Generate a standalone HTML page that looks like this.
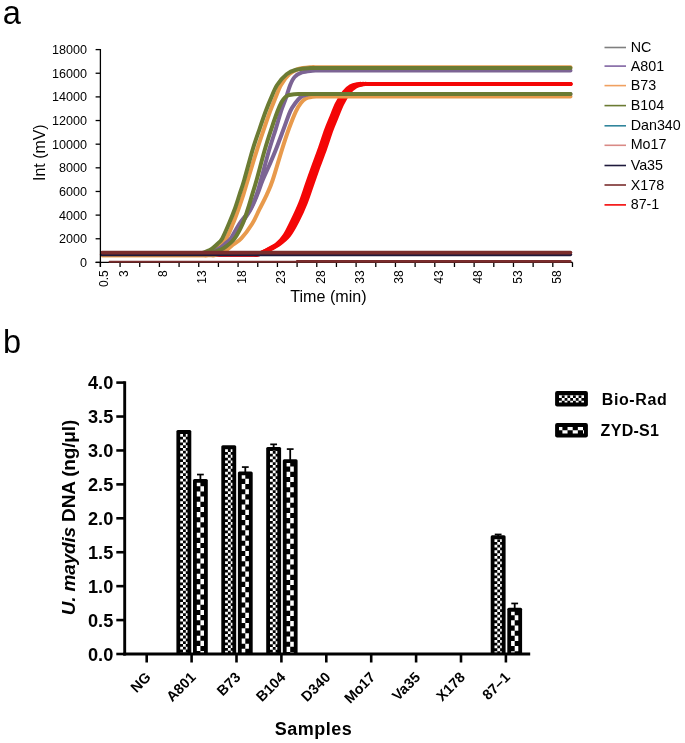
<!DOCTYPE html>
<html><head><meta charset="utf-8"><title>Figure</title>
<style>html,body{margin:0;padding:0;background:#fff;}body{width:685px;height:743px;overflow:hidden;font-family:"Liberation Sans",sans-serif;}svg text{font-family:"Liberation Sans",sans-serif;}</style>
</head><body>
<svg width="685" height="743" viewBox="0 0 685 743" style="display:block">
<defs>

</defs>
<rect width="685" height="743" fill="#fff"/>
<g font-family="Liberation Sans, sans-serif" fill="#000" opacity="0.999">
<text x="2.7" y="24.2" font-size="32.6">a</text>
<text x="3.0" y="352.7" font-size="32.5">b</text>
<path d="M102.00,254.50 L249.62,254.50 C250.29,254.50 252.29,254.55 253.62,254.50 C254.95,254.45 255.55,254.87 257.62,254.20 C259.69,253.53 262.84,252.12 266.02,250.50 C269.20,248.88 273.58,247.00 276.70,244.50 C279.81,242.00 282.13,239.43 284.73,235.50 C287.33,231.57 289.67,226.37 292.30,220.90 C294.93,215.43 298.07,208.77 300.50,202.70 C302.93,196.63 304.77,190.55 306.90,184.50 C309.03,178.45 311.12,172.45 313.30,166.40 C315.48,160.35 317.85,154.27 320.00,148.20 C322.15,142.13 324.38,134.97 326.20,130.00 C328.02,125.03 329.10,122.77 330.90,118.40 C332.70,114.03 334.82,108.15 337.00,103.80 C339.18,99.45 341.73,95.20 344.00,92.30 C346.27,89.40 348.30,87.75 350.60,86.40 C352.90,85.05 355.77,84.60 357.80,84.20 C359.83,83.80 361.13,84.03 362.80,84.00 C364.47,83.97 366.97,84.00 367.80,84.00 L570.50,84.00" fill="none" stroke="#f40606" stroke-width="4.20" stroke-linecap="round" stroke-linejoin="round"/>
<path d="M102.00,254.50 L250.40,254.50 C251.07,254.50 253.07,254.55 254.40,254.50 C255.73,254.45 256.33,254.87 258.40,254.20 C260.47,253.53 263.58,252.12 266.80,250.50 C270.02,248.88 274.37,247.00 277.70,244.50 C281.03,242.00 283.93,239.43 286.80,235.50 C289.67,231.57 292.18,226.37 294.90,220.90 C297.62,215.43 300.67,208.77 303.10,202.70 C305.53,196.63 307.37,190.55 309.50,184.50 C311.63,178.45 313.72,172.45 315.90,166.40 C318.08,160.35 320.45,154.27 322.60,148.20 C324.75,142.13 326.98,134.97 328.80,130.00 C330.62,125.03 331.70,122.77 333.50,118.40 C335.30,114.03 337.42,108.15 339.60,103.80 C341.78,99.45 344.33,95.20 346.60,92.30 C348.87,89.40 350.90,87.75 353.20,86.40 C355.50,85.05 358.37,84.60 360.40,84.20 C362.43,83.80 363.73,84.03 365.40,84.00 C367.07,83.97 369.57,84.00 370.40,84.00 L570.50,84.00" fill="none" stroke="#f40606" stroke-width="4.20" stroke-linecap="round" stroke-linejoin="round"/>
<path d="M102.00,254.50 L251.18,254.50 C251.85,254.50 253.85,254.55 255.18,254.50 C256.51,254.45 257.11,254.87 259.18,254.20 C261.25,253.53 264.33,252.12 267.58,250.50 C270.83,248.88 275.16,247.00 278.70,244.50 C282.25,242.00 285.74,239.43 288.87,235.50 C292.00,231.57 294.69,226.37 297.50,220.90 C300.31,215.43 303.27,208.77 305.70,202.70 C308.13,196.63 309.97,190.55 312.10,184.50 C314.23,178.45 316.32,172.45 318.50,166.40 C320.68,160.35 323.05,154.27 325.20,148.20 C327.35,142.13 329.58,134.97 331.40,130.00 C333.22,125.03 334.30,122.77 336.10,118.40 C337.90,114.03 340.02,108.15 342.20,103.80 C344.38,99.45 346.93,95.20 349.20,92.30 C351.47,89.40 353.50,87.75 355.80,86.40 C358.10,85.05 360.97,84.60 363.00,84.20 C365.03,83.80 366.33,84.03 368.00,84.00 C369.67,83.97 372.17,84.00 373.00,84.00 L570.50,84.00" fill="none" stroke="#f40606" stroke-width="4.20" stroke-linecap="round" stroke-linejoin="round"/>
<path d="M102.00,255.20 L199.40,255.20 C200.07,255.20 202.07,255.20 203.40,255.20 C204.73,255.20 205.57,255.98 207.40,255.20 C209.23,254.42 212.23,252.20 214.40,250.50 C216.57,248.80 218.40,247.02 220.40,245.00 C222.40,242.98 224.32,241.93 226.40,238.40 C228.48,234.87 230.90,228.67 232.90,223.80 C234.90,218.93 236.65,214.07 238.40,209.20 C240.15,204.33 241.83,199.47 243.40,194.60 C244.97,189.73 245.53,187.47 247.80,180.00 C250.07,172.53 254.30,158.33 257.00,149.80 C259.70,141.27 261.82,135.22 264.00,128.80 C266.18,122.38 268.20,116.42 270.10,111.30 C272.00,106.18 273.58,102.48 275.40,98.10 C277.22,93.72 278.67,89.02 281.00,85.00 C283.33,80.98 286.50,76.67 289.40,74.00 C292.30,71.33 294.73,70.13 298.40,69.00 C302.07,67.87 308.40,67.48 311.40,67.20 C314.40,66.92 314.73,67.28 316.40,67.30 C318.07,67.32 320.57,67.30 321.40,67.30 L570.50,67.30" fill="none" stroke="#e89a4c" stroke-width="4.00" stroke-linecap="round" stroke-linejoin="round"/>
<path d="M102.00,255.20 L206.40,255.20 C207.07,255.20 209.07,255.20 210.40,255.20 C211.73,255.20 212.07,255.82 214.40,255.20 C216.73,254.58 221.50,253.08 224.40,251.50 C227.30,249.92 228.98,247.88 231.80,245.70 C234.62,243.52 237.90,242.05 241.30,238.40 C244.70,234.75 249.17,228.67 252.20,223.80 C255.23,218.93 257.07,214.07 259.50,209.20 C261.93,204.33 264.60,199.47 266.80,194.60 C269.00,189.73 270.18,187.47 272.70,180.00 C275.22,172.53 279.20,158.33 281.90,149.80 C284.60,141.27 286.57,135.22 288.90,128.80 C291.23,122.38 293.90,115.60 295.90,111.30 C297.90,107.00 299.23,105.15 300.90,103.00 C302.57,100.85 303.98,99.43 305.90,98.40 C307.82,97.37 310.48,97.12 312.40,96.80 C314.32,96.48 315.73,96.55 317.40,96.50 C319.07,96.45 321.57,96.50 322.40,96.50 L570.50,96.50" fill="none" stroke="#e89a4c" stroke-width="4.00" stroke-linecap="round" stroke-linejoin="round"/>
<path d="M102.00,253.00 L202.40,253.00 C203.07,253.00 205.07,253.07 206.40,253.00 C207.73,252.93 208.40,253.27 210.40,252.60 C212.40,251.93 215.90,250.52 218.40,249.00 C220.90,247.48 223.32,245.27 225.40,243.50 C227.48,241.73 228.57,241.68 230.90,238.40 C233.23,235.12 236.18,228.67 239.40,223.80 C242.62,218.93 247.33,214.07 250.20,209.20 C253.07,204.33 254.82,199.47 256.60,194.60 C258.38,189.73 258.80,187.47 260.90,180.00 C263.00,172.53 266.72,158.33 269.20,149.80 C271.68,141.27 273.83,135.22 275.80,128.80 C277.77,122.38 279.32,116.42 281.00,111.30 C282.68,106.18 284.37,102.48 285.90,98.10 C287.43,93.72 288.75,88.52 290.20,85.00 C291.65,81.48 292.65,79.10 294.60,77.00 C296.55,74.90 298.97,73.45 301.90,72.40 C304.83,71.35 309.65,71.02 312.20,70.70 C314.75,70.38 315.53,70.53 317.20,70.50 C318.87,70.47 321.37,70.50 322.20,70.50 L570.50,70.50" fill="none" stroke="#7c6494" stroke-width="4.00" stroke-linecap="round" stroke-linejoin="round"/>
<path d="M102.00,253.00 L203.40,253.00 C204.07,253.00 206.07,253.07 207.40,253.00 C208.73,252.93 209.23,253.27 211.40,252.60 C213.57,251.93 217.73,250.52 220.40,249.00 C223.07,247.48 225.32,245.27 227.40,243.50 C229.48,241.73 230.57,241.68 232.90,238.40 C235.23,235.12 238.43,228.67 241.40,223.80 C244.37,218.93 248.05,214.07 250.70,209.20 C253.35,204.33 255.30,199.47 257.30,194.60 C259.30,189.73 260.68,184.93 262.70,180.00 C264.72,175.07 267.22,170.03 269.40,165.00 C271.58,159.97 273.42,155.83 275.80,149.80 C278.18,143.77 281.30,135.22 283.70,128.80 C286.10,122.38 288.25,115.60 290.20,111.30 C292.15,107.00 293.70,105.32 295.40,103.00 C297.10,100.68 298.57,98.77 300.40,97.40 C302.23,96.03 304.57,95.37 306.40,94.80 C308.23,94.23 309.73,94.13 311.40,94.00 C313.07,93.87 315.57,94.00 316.40,94.00 L570.50,94.00" fill="none" stroke="#7c6494" stroke-width="4.00" stroke-linecap="round" stroke-linejoin="round"/>
<path d="M102.00,253.00 L195.40,253.00 C196.07,253.00 198.07,253.07 199.40,253.00 C200.73,252.93 201.90,253.00 203.40,252.60 C204.90,252.20 206.95,251.27 208.40,250.60 C209.85,249.93 210.60,249.70 212.10,248.60 C213.60,247.50 215.70,245.70 217.40,244.00 C219.10,242.30 220.38,241.77 222.30,238.40 C224.22,235.03 226.83,228.67 228.90,223.80 C230.97,218.93 232.93,214.07 234.70,209.20 C236.47,204.33 237.92,199.47 239.50,194.60 C241.08,189.73 242.02,187.47 244.20,180.00 C246.38,172.53 250.03,158.33 252.60,149.80 C255.17,141.27 257.42,135.22 259.60,128.80 C261.78,122.38 263.80,116.42 265.70,111.30 C267.60,106.18 269.10,102.48 271.00,98.10 C272.90,93.72 274.50,88.98 277.10,85.00 C279.70,81.02 283.43,76.73 286.60,74.20 C289.77,71.67 292.08,70.82 296.10,69.80 C300.12,68.78 307.43,68.40 310.70,68.10 C313.97,67.80 314.03,68.02 315.70,68.00 C317.37,67.98 319.87,68.00 320.70,68.00 L570.50,68.00" fill="none" stroke="#6b7b33" stroke-width="4.00" stroke-linecap="round" stroke-linejoin="round"/>
<path d="M102.00,253.00 L204.40,253.00 C205.07,253.00 207.07,253.07 208.40,253.00 C209.73,252.93 210.57,253.07 212.40,252.60 C214.23,252.13 217.27,251.10 219.40,250.20 C221.53,249.30 222.65,249.17 225.20,247.20 C227.75,245.23 231.78,242.30 234.70,238.40 C237.62,234.50 240.52,228.67 242.70,223.80 C244.88,218.93 246.22,214.07 247.80,209.20 C249.38,204.33 250.73,199.47 252.20,194.60 C253.67,189.73 254.50,187.47 256.60,180.00 C258.70,172.53 262.33,158.33 264.80,149.80 C267.27,141.27 269.28,135.22 271.40,128.80 C273.52,122.38 275.80,115.77 277.50,111.30 C279.20,106.83 280.38,104.28 281.60,102.00 C282.82,99.72 283.60,98.73 284.80,97.60 C286.00,96.47 287.20,95.77 288.80,95.20 C290.40,94.63 292.63,94.40 294.40,94.20 C296.17,94.00 297.73,94.03 299.40,94.00 C301.07,93.97 303.57,94.00 304.40,94.00 L570.50,94.00" fill="none" stroke="#6b7b33" stroke-width="4.00" stroke-linecap="round" stroke-linejoin="round"/>
<line x1="102.0" y1="254.5" x2="570.5" y2="254.5" stroke="#1e1a3c" stroke-width="3.4" stroke-linecap="round"/>
<line x1="102.0" y1="252.6" x2="570.5" y2="252.6" stroke="#7a2d2d" stroke-width="3.6" stroke-linecap="round"/>
<line x1="100.4" y1="49.0" x2="100.4" y2="267.0" stroke="#000" stroke-width="1.3"/>
<line x1="95.6" y1="262.4" x2="572.6" y2="262.4" stroke="#000" stroke-width="1.3"/>
<line x1="95.6" y1="49.60" x2="100.4" y2="49.60" stroke="#000" stroke-width="1.3"/>
<text x="87.1" y="54.10" font-size="12.6" text-anchor="end">18000</text>
<line x1="95.6" y1="73.24" x2="100.4" y2="73.24" stroke="#000" stroke-width="1.3"/>
<text x="87.1" y="77.74" font-size="12.6" text-anchor="end">16000</text>
<line x1="95.6" y1="96.89" x2="100.4" y2="96.89" stroke="#000" stroke-width="1.3"/>
<text x="87.1" y="101.39" font-size="12.6" text-anchor="end">14000</text>
<line x1="95.6" y1="120.53" x2="100.4" y2="120.53" stroke="#000" stroke-width="1.3"/>
<text x="87.1" y="125.03" font-size="12.6" text-anchor="end">12000</text>
<line x1="95.6" y1="144.18" x2="100.4" y2="144.18" stroke="#000" stroke-width="1.3"/>
<text x="87.1" y="148.68" font-size="12.6" text-anchor="end">10000</text>
<line x1="95.6" y1="167.82" x2="100.4" y2="167.82" stroke="#000" stroke-width="1.3"/>
<text x="87.1" y="172.32" font-size="12.6" text-anchor="end">8000</text>
<line x1="95.6" y1="191.47" x2="100.4" y2="191.47" stroke="#000" stroke-width="1.3"/>
<text x="87.1" y="195.97" font-size="12.6" text-anchor="end">6000</text>
<line x1="95.6" y1="215.11" x2="100.4" y2="215.11" stroke="#000" stroke-width="1.3"/>
<text x="87.1" y="219.61" font-size="12.6" text-anchor="end">4000</text>
<line x1="95.6" y1="238.76" x2="100.4" y2="238.76" stroke="#000" stroke-width="1.3"/>
<text x="87.1" y="243.26" font-size="12.6" text-anchor="end">2000</text>
<line x1="95.6" y1="262.40" x2="100.4" y2="262.40" stroke="#000" stroke-width="1.3"/>
<text x="87.1" y="266.90" font-size="12.6" text-anchor="end">0</text>
<line x1="100.40" y1="262.4" x2="100.40" y2="267.0" stroke="#000" stroke-width="1.3"/>
<line x1="120.07" y1="262.4" x2="120.07" y2="267.0" stroke="#000" stroke-width="1.3"/>
<line x1="139.74" y1="262.4" x2="139.74" y2="267.0" stroke="#000" stroke-width="1.3"/>
<line x1="159.41" y1="262.4" x2="159.41" y2="267.0" stroke="#000" stroke-width="1.3"/>
<line x1="179.08" y1="262.4" x2="179.08" y2="267.0" stroke="#000" stroke-width="1.3"/>
<line x1="198.75" y1="262.4" x2="198.75" y2="267.0" stroke="#000" stroke-width="1.3"/>
<line x1="218.42" y1="262.4" x2="218.42" y2="267.0" stroke="#000" stroke-width="1.3"/>
<line x1="238.09" y1="262.4" x2="238.09" y2="267.0" stroke="#000" stroke-width="1.3"/>
<line x1="257.76" y1="262.4" x2="257.76" y2="267.0" stroke="#000" stroke-width="1.3"/>
<line x1="277.43" y1="262.4" x2="277.43" y2="267.0" stroke="#000" stroke-width="1.3"/>
<line x1="297.10" y1="262.4" x2="297.10" y2="267.0" stroke="#000" stroke-width="1.3"/>
<line x1="316.77" y1="262.4" x2="316.77" y2="267.0" stroke="#000" stroke-width="1.3"/>
<line x1="336.44" y1="262.4" x2="336.44" y2="267.0" stroke="#000" stroke-width="1.3"/>
<line x1="356.11" y1="262.4" x2="356.11" y2="267.0" stroke="#000" stroke-width="1.3"/>
<line x1="375.78" y1="262.4" x2="375.78" y2="267.0" stroke="#000" stroke-width="1.3"/>
<line x1="395.45" y1="262.4" x2="395.45" y2="267.0" stroke="#000" stroke-width="1.3"/>
<line x1="415.12" y1="262.4" x2="415.12" y2="267.0" stroke="#000" stroke-width="1.3"/>
<line x1="434.79" y1="262.4" x2="434.79" y2="267.0" stroke="#000" stroke-width="1.3"/>
<line x1="454.46" y1="262.4" x2="454.46" y2="267.0" stroke="#000" stroke-width="1.3"/>
<line x1="474.13" y1="262.4" x2="474.13" y2="267.0" stroke="#000" stroke-width="1.3"/>
<line x1="493.80" y1="262.4" x2="493.80" y2="267.0" stroke="#000" stroke-width="1.3"/>
<line x1="513.47" y1="262.4" x2="513.47" y2="267.0" stroke="#000" stroke-width="1.3"/>
<line x1="533.14" y1="262.4" x2="533.14" y2="267.0" stroke="#000" stroke-width="1.3"/>
<line x1="552.81" y1="262.4" x2="552.81" y2="267.0" stroke="#000" stroke-width="1.3"/>
<line x1="572.48" y1="262.4" x2="572.48" y2="267.0" stroke="#000" stroke-width="1.3"/>
<line x1="109.5" y1="261.7" x2="570.5" y2="261.7" stroke="#7a2d2d" stroke-width="1.9" stroke-linecap="round"/>
<line x1="297" y1="261.2" x2="570.5" y2="261.2" stroke="#7a2d2d" stroke-width="2.2" stroke-linecap="round"/>
<text transform="translate(108.10,270.3) rotate(-90)" font-size="12" text-anchor="end">0.5</text>
<text transform="translate(127.60,270.3) rotate(-90)" font-size="12" text-anchor="end">3</text>
<text transform="translate(167.00,270.3) rotate(-90)" font-size="12" text-anchor="end">8</text>
<text transform="translate(206.40,270.3) rotate(-90)" font-size="12" text-anchor="end">13</text>
<text transform="translate(245.80,270.3) rotate(-90)" font-size="12" text-anchor="end">18</text>
<text transform="translate(285.20,270.3) rotate(-90)" font-size="12" text-anchor="end">23</text>
<text transform="translate(324.60,270.3) rotate(-90)" font-size="12" text-anchor="end">28</text>
<text transform="translate(364.00,270.3) rotate(-90)" font-size="12" text-anchor="end">33</text>
<text transform="translate(403.40,270.3) rotate(-90)" font-size="12" text-anchor="end">38</text>
<text transform="translate(442.80,270.3) rotate(-90)" font-size="12" text-anchor="end">43</text>
<text transform="translate(482.20,270.3) rotate(-90)" font-size="12" text-anchor="end">48</text>
<text transform="translate(521.60,270.3) rotate(-90)" font-size="12" text-anchor="end">53</text>
<text transform="translate(561.00,270.3) rotate(-90)" font-size="12" text-anchor="end">58</text>
<text x="328.4" y="301.8" font-size="16.1" text-anchor="middle">Time (min)</text>
<text transform="translate(44.5,152.7) rotate(-90)" font-size="15.9" text-anchor="middle">Int (mV)</text>
<line x1="604.5" y1="47.50" x2="626" y2="47.50" stroke="#7f7f7f" stroke-width="1.6"/>
<text x="630.7" y="51.90" font-size="14.3">NC</text>
<line x1="604.5" y1="66.10" x2="626" y2="66.10" stroke="#8064a2" stroke-width="1.6"/>
<text x="630.7" y="70.50" font-size="14.3">A801</text>
<line x1="604.5" y1="85.60" x2="626" y2="85.60" stroke="#f0a060" stroke-width="1.6"/>
<text x="630.7" y="90.00" font-size="14.3">B73</text>
<line x1="604.5" y1="105.60" x2="626" y2="105.60" stroke="#6b7b33" stroke-width="1.6"/>
<text x="630.7" y="110.10" font-size="14.3">B104</text>
<line x1="604.5" y1="125.80" x2="626" y2="125.80" stroke="#31859c" stroke-width="1.6"/>
<text x="630.7" y="129.60" font-size="14.3">Dan340</text>
<line x1="604.5" y1="145.30" x2="626" y2="145.30" stroke="#d98a86" stroke-width="1.6"/>
<text x="630.7" y="149.40" font-size="14.3">Mo17</text>
<line x1="604.5" y1="165.50" x2="626" y2="165.50" stroke="#1e1a3c" stroke-width="1.6"/>
<text x="630.7" y="169.60" font-size="14.3">Va35</text>
<line x1="604.5" y1="185.00" x2="626" y2="185.00" stroke="#7a2d2d" stroke-width="1.6"/>
<text x="630.7" y="189.80" font-size="14.3">X178</text>
<line x1="604.5" y1="204.90" x2="626" y2="204.90" stroke="#f40606" stroke-width="1.6"/>
<text x="630.7" y="209.30" font-size="14.3">87-1</text>
<path d="M176.40,654.00 L176.40,431.60 Q176.40,430.10 177.90,430.10 L189.80,430.10 Q191.30,430.10 191.30,431.60 L191.30,654.00 Z" fill="#000"/><path d="M180.20,434.00H183.00V436.80H180.20ZM180.20,439.60H183.00V442.39H180.20ZM180.20,445.19H183.00V448.00H180.20ZM180.20,450.80H183.00V453.60H180.20ZM180.20,456.39H183.00V459.19H180.20ZM180.20,462.00H183.00V464.80H180.20ZM180.20,467.60H183.00V470.39H180.20ZM180.20,473.19H183.00V476.00H180.20ZM180.20,478.80H183.00V481.60H180.20ZM180.20,484.39H183.00V487.19H180.20ZM180.20,490.00H183.00V492.80H180.20ZM180.20,495.60H183.00V498.39H180.20ZM180.20,501.19H183.00V504.00H180.20ZM180.20,506.80H183.00V509.60H180.20ZM180.20,512.39H183.00V515.19H180.20ZM180.20,518.00H183.00V520.79H180.20ZM180.20,523.60H183.00V526.39H180.20ZM180.20,529.19H183.00V532.00H180.20ZM180.20,534.79H183.00V537.60H180.20ZM180.20,540.39H183.00V543.19H180.20ZM180.20,546.00H183.00V548.79H180.20ZM180.20,551.60H183.00V554.39H180.20ZM180.20,557.19H183.00V560.00H180.20ZM180.20,562.79H183.00V565.60H180.20ZM180.20,568.39H183.00V571.19H180.20ZM180.20,574.00H183.00V576.79H180.20ZM180.20,579.60H183.00V582.39H180.20ZM180.20,585.19H183.00V588.00H180.20ZM180.20,590.79H183.00V593.60H180.20ZM180.20,596.39H183.00V599.19H180.20ZM180.20,602.00H183.00V604.79H180.20ZM180.20,607.60H183.00V610.39H180.20ZM180.20,613.19H183.00V616.00H180.20ZM180.20,618.79H183.00V621.60H180.20ZM180.20,624.39H183.00V627.19H180.20ZM180.20,630.00H183.00V632.79H180.20ZM180.20,635.60H183.00V638.39H180.20ZM180.20,641.19H183.00V644.00H180.20ZM180.20,646.79H183.00V649.60H180.20ZM180.20,652.39H183.00V652.70H180.20ZM183.00,433.90H185.80V434.00H183.00ZM183.00,436.80H185.80V439.60H183.00ZM183.00,442.39H185.80V445.19H183.00ZM183.00,448.00H185.80V450.80H183.00ZM183.00,453.60H185.80V456.39H183.00ZM183.00,459.19H185.80V462.00H183.00ZM183.00,464.80H185.80V467.60H183.00ZM183.00,470.39H185.80V473.19H183.00ZM183.00,476.00H185.80V478.80H183.00ZM183.00,481.60H185.80V484.39H183.00ZM183.00,487.19H185.80V490.00H183.00ZM183.00,492.80H185.80V495.60H183.00ZM183.00,498.39H185.80V501.19H183.00ZM183.00,504.00H185.80V506.80H183.00ZM183.00,509.60H185.80V512.39H183.00ZM183.00,515.19H185.80V518.00H183.00ZM183.00,520.79H185.80V523.60H183.00ZM183.00,526.39H185.80V529.19H183.00ZM183.00,532.00H185.80V534.79H183.00ZM183.00,537.60H185.80V540.39H183.00ZM183.00,543.19H185.80V546.00H183.00ZM183.00,548.79H185.80V551.60H183.00ZM183.00,554.39H185.80V557.19H183.00ZM183.00,560.00H185.80V562.79H183.00ZM183.00,565.60H185.80V568.39H183.00ZM183.00,571.19H185.80V574.00H183.00ZM183.00,576.79H185.80V579.60H183.00ZM183.00,582.39H185.80V585.19H183.00ZM183.00,588.00H185.80V590.79H183.00ZM183.00,593.60H185.80V596.39H183.00ZM183.00,599.19H185.80V602.00H183.00ZM183.00,604.79H185.80V607.60H183.00ZM183.00,610.39H185.80V613.19H183.00ZM183.00,616.00H185.80V618.79H183.00ZM183.00,621.60H185.80V624.39H183.00ZM183.00,627.19H185.80V630.00H183.00ZM183.00,632.79H185.80V635.60H183.00ZM183.00,638.39H185.80V641.19H183.00ZM183.00,644.00H185.80V646.79H183.00ZM183.00,649.60H185.80V652.39H183.00ZM185.80,434.00H187.50V436.80H185.80ZM185.80,439.60H187.50V442.39H185.80ZM185.80,445.19H187.50V448.00H185.80ZM185.80,450.80H187.50V453.60H185.80ZM185.80,456.39H187.50V459.19H185.80ZM185.80,462.00H187.50V464.80H185.80ZM185.80,467.60H187.50V470.39H185.80ZM185.80,473.19H187.50V476.00H185.80ZM185.80,478.80H187.50V481.60H185.80ZM185.80,484.39H187.50V487.19H185.80ZM185.80,490.00H187.50V492.80H185.80ZM185.80,495.60H187.50V498.39H185.80ZM185.80,501.19H187.50V504.00H185.80ZM185.80,506.80H187.50V509.60H185.80ZM185.80,512.39H187.50V515.19H185.80ZM185.80,518.00H187.50V520.79H185.80ZM185.80,523.60H187.50V526.39H185.80ZM185.80,529.19H187.50V532.00H185.80ZM185.80,534.79H187.50V537.60H185.80ZM185.80,540.39H187.50V543.19H185.80ZM185.80,546.00H187.50V548.79H185.80ZM185.80,551.60H187.50V554.39H185.80ZM185.80,557.19H187.50V560.00H185.80ZM185.80,562.79H187.50V565.60H185.80ZM185.80,568.39H187.50V571.19H185.80ZM185.80,574.00H187.50V576.79H185.80ZM185.80,579.60H187.50V582.39H185.80ZM185.80,585.19H187.50V588.00H185.80ZM185.80,590.79H187.50V593.60H185.80ZM185.80,596.39H187.50V599.19H185.80ZM185.80,602.00H187.50V604.79H185.80ZM185.80,607.60H187.50V610.39H185.80ZM185.80,613.19H187.50V616.00H185.80ZM185.80,618.79H187.50V621.60H185.80ZM185.80,624.39H187.50V627.19H185.80ZM185.80,630.00H187.50V632.79H185.80ZM185.80,635.60H187.50V638.39H185.80ZM185.80,641.19H187.50V644.00H185.80ZM185.80,646.79H187.50V649.60H185.80ZM185.80,652.39H187.50V652.70H185.80Z" fill="#fff"/>
<line x1="200.40" y1="474.54" x2="200.40" y2="479.95" stroke="#000" stroke-width="1.8"/><line x1="197.00" y1="474.54" x2="203.80" y2="474.54" stroke="#000" stroke-width="1.7"/><path d="M193.00,654.00 L193.00,480.45 Q193.00,478.95 194.50,478.95 L206.30,478.95 Q207.80,478.95 207.80,480.45 L207.80,654.00 Z" fill="#000"/><path d="M196.80,482.75H200.40V486.30H196.80ZM196.80,491.45H200.40V496.60H196.80ZM196.80,501.75H200.40V506.90H196.80ZM196.80,512.05H200.40V517.20H196.80ZM196.80,522.35H200.40V527.50H196.80ZM196.80,532.65H200.40V537.80H196.80ZM196.80,542.95H200.40V548.10H196.80ZM196.80,553.25H200.40V558.40H196.80ZM196.80,563.55H200.40V568.70H196.80ZM196.80,573.85H200.40V579.00H196.80ZM196.80,584.15H200.40V589.30H196.80ZM196.80,594.45H200.40V599.60H196.80ZM196.80,604.75H200.40V609.90H196.80ZM196.80,615.05H200.40V620.20H196.80ZM196.80,625.35H200.40V630.50H196.80ZM196.80,635.65H200.40V640.80H196.80ZM196.80,645.95H200.40V651.10H196.80ZM200.40,486.30H204.00V491.45H200.40ZM200.40,496.60H204.00V501.75H200.40ZM200.40,506.90H204.00V512.05H200.40ZM200.40,517.20H204.00V522.35H200.40ZM200.40,527.50H204.00V532.65H200.40ZM200.40,537.80H204.00V542.95H200.40ZM200.40,548.10H204.00V553.25H200.40ZM200.40,558.40H204.00V563.55H200.40ZM200.40,568.70H204.00V573.85H200.40ZM200.40,579.00H204.00V584.15H200.40ZM200.40,589.30H204.00V594.45H200.40ZM200.40,599.60H204.00V604.75H200.40ZM200.40,609.90H204.00V615.05H200.40ZM200.40,620.20H204.00V625.35H200.40ZM200.40,630.50H204.00V635.65H200.40ZM200.40,640.80H204.00V645.95H200.40ZM200.40,651.10H204.00V652.70H200.40Z" fill="#fff"/>
<path d="M221.30,654.00 L221.30,446.86 Q221.30,445.36 222.80,445.36 L234.70,445.36 Q236.20,445.36 236.20,446.86 L236.20,654.00 Z" fill="#000"/><path d="M225.10,449.26H227.90V452.06H225.10ZM225.10,454.86H227.90V457.66H225.10ZM225.10,460.46H227.90V463.26H225.10ZM225.10,466.06H227.90V468.86H225.10ZM225.10,471.66H227.90V474.46H225.10ZM225.10,477.26H227.90V480.06H225.10ZM225.10,482.86H227.90V485.66H225.10ZM225.10,488.46H227.90V491.26H225.10ZM225.10,494.06H227.90V496.86H225.10ZM225.10,499.66H227.90V502.46H225.10ZM225.10,505.26H227.90V508.06H225.10ZM225.10,510.86H227.90V513.66H225.10ZM225.10,516.46H227.90V519.26H225.10ZM225.10,522.06H227.90V524.86H225.10ZM225.10,527.66H227.90V530.46H225.10ZM225.10,533.26H227.90V536.06H225.10ZM225.10,538.86H227.90V541.66H225.10ZM225.10,544.46H227.90V547.26H225.10ZM225.10,550.06H227.90V552.86H225.10ZM225.10,555.66H227.90V558.46H225.10ZM225.10,561.26H227.90V564.06H225.10ZM225.10,566.86H227.90V569.66H225.10ZM225.10,572.46H227.90V575.26H225.10ZM225.10,578.06H227.90V580.86H225.10ZM225.10,583.66H227.90V586.46H225.10ZM225.10,589.26H227.90V592.06H225.10ZM225.10,594.86H227.90V597.66H225.10ZM225.10,600.46H227.90V603.26H225.10ZM225.10,606.06H227.90V608.86H225.10ZM225.10,611.66H227.90V614.46H225.10ZM225.10,617.26H227.90V620.06H225.10ZM225.10,622.86H227.90V625.66H225.10ZM225.10,628.46H227.90V631.26H225.10ZM225.10,634.06H227.90V636.86H225.10ZM225.10,639.66H227.90V642.46H225.10ZM225.10,645.26H227.90V648.06H225.10ZM225.10,650.86H227.90V652.70H225.10ZM227.90,449.16H230.70V449.26H227.90ZM227.90,452.06H230.70V454.86H227.90ZM227.90,457.66H230.70V460.46H227.90ZM227.90,463.26H230.70V466.06H227.90ZM227.90,468.86H230.70V471.66H227.90ZM227.90,474.46H230.70V477.26H227.90ZM227.90,480.06H230.70V482.86H227.90ZM227.90,485.66H230.70V488.46H227.90ZM227.90,491.26H230.70V494.06H227.90ZM227.90,496.86H230.70V499.66H227.90ZM227.90,502.46H230.70V505.26H227.90ZM227.90,508.06H230.70V510.86H227.90ZM227.90,513.66H230.70V516.46H227.90ZM227.90,519.26H230.70V522.06H227.90ZM227.90,524.86H230.70V527.66H227.90ZM227.90,530.46H230.70V533.26H227.90ZM227.90,536.06H230.70V538.86H227.90ZM227.90,541.66H230.70V544.46H227.90ZM227.90,547.26H230.70V550.06H227.90ZM227.90,552.86H230.70V555.66H227.90ZM227.90,558.46H230.70V561.26H227.90ZM227.90,564.06H230.70V566.86H227.90ZM227.90,569.66H230.70V572.46H227.90ZM227.90,575.26H230.70V578.06H227.90ZM227.90,580.86H230.70V583.66H227.90ZM227.90,586.46H230.70V589.26H227.90ZM227.90,592.06H230.70V594.86H227.90ZM227.90,597.66H230.70V600.46H227.90ZM227.90,603.26H230.70V606.06H227.90ZM227.90,608.86H230.70V611.66H227.90ZM227.90,614.46H230.70V617.26H227.90ZM227.90,620.06H230.70V622.86H227.90ZM227.90,625.66H230.70V628.46H227.90ZM227.90,631.26H230.70V634.06H227.90ZM227.90,636.86H230.70V639.66H227.90ZM227.90,642.46H230.70V645.26H227.90ZM227.90,648.06H230.70V650.86H227.90ZM230.70,449.26H232.40V452.06H230.70ZM230.70,454.86H232.40V457.66H230.70ZM230.70,460.46H232.40V463.26H230.70ZM230.70,466.06H232.40V468.86H230.70ZM230.70,471.66H232.40V474.46H230.70ZM230.70,477.26H232.40V480.06H230.70ZM230.70,482.86H232.40V485.66H230.70ZM230.70,488.46H232.40V491.26H230.70ZM230.70,494.06H232.40V496.86H230.70ZM230.70,499.66H232.40V502.46H230.70ZM230.70,505.26H232.40V508.06H230.70ZM230.70,510.86H232.40V513.66H230.70ZM230.70,516.46H232.40V519.26H230.70ZM230.70,522.06H232.40V524.86H230.70ZM230.70,527.66H232.40V530.46H230.70ZM230.70,533.26H232.40V536.06H230.70ZM230.70,538.86H232.40V541.66H230.70ZM230.70,544.46H232.40V547.26H230.70ZM230.70,550.06H232.40V552.86H230.70ZM230.70,555.66H232.40V558.46H230.70ZM230.70,561.26H232.40V564.06H230.70ZM230.70,566.86H232.40V569.66H230.70ZM230.70,572.46H232.40V575.26H230.70ZM230.70,578.06H232.40V580.86H230.70ZM230.70,583.66H232.40V586.46H230.70ZM230.70,589.26H232.40V592.06H230.70ZM230.70,594.86H232.40V597.66H230.70ZM230.70,600.46H232.40V603.26H230.70ZM230.70,606.06H232.40V608.86H230.70ZM230.70,611.66H232.40V614.46H230.70ZM230.70,617.26H232.40V620.06H230.70ZM230.70,622.86H232.40V625.66H230.70ZM230.70,628.46H232.40V631.26H230.70ZM230.70,634.06H232.40V636.86H230.70ZM230.70,639.66H232.40V642.46H230.70ZM230.70,645.26H232.40V648.06H230.70ZM230.70,650.86H232.40V652.70H230.70Z" fill="#fff"/>
<line x1="245.30" y1="467.07" x2="245.30" y2="472.48" stroke="#000" stroke-width="1.8"/><line x1="241.90" y1="467.07" x2="248.70" y2="467.07" stroke="#000" stroke-width="1.7"/><path d="M237.90,654.00 L237.90,472.98 Q237.90,471.48 239.40,471.48 L251.20,471.48 Q252.70,471.48 252.70,472.98 L252.70,654.00 Z" fill="#000"/><path d="M241.70,475.28H245.30V478.83H241.70ZM241.70,483.98H245.30V489.13H241.70ZM241.70,494.28H245.30V499.43H241.70ZM241.70,504.58H245.30V509.73H241.70ZM241.70,514.88H245.30V520.03H241.70ZM241.70,525.18H245.30V530.33H241.70ZM241.70,535.48H245.30V540.63H241.70ZM241.70,545.78H245.30V550.93H241.70ZM241.70,556.08H245.30V561.23H241.70ZM241.70,566.38H245.30V571.53H241.70ZM241.70,576.68H245.30V581.83H241.70ZM241.70,586.98H245.30V592.13H241.70ZM241.70,597.28H245.30V602.43H241.70ZM241.70,607.58H245.30V612.73H241.70ZM241.70,617.88H245.30V623.03H241.70ZM241.70,628.18H245.30V633.33H241.70ZM241.70,638.48H245.30V643.63H241.70ZM241.70,648.78H245.30V652.70H241.70ZM245.30,478.83H248.90V483.98H245.30ZM245.30,489.13H248.90V494.28H245.30ZM245.30,499.43H248.90V504.58H245.30ZM245.30,509.73H248.90V514.88H245.30ZM245.30,520.03H248.90V525.18H245.30ZM245.30,530.33H248.90V535.48H245.30ZM245.30,540.63H248.90V545.78H245.30ZM245.30,550.93H248.90V556.08H245.30ZM245.30,561.23H248.90V566.38H245.30ZM245.30,571.53H248.90V576.68H245.30ZM245.30,581.83H248.90V586.98H245.30ZM245.30,592.13H248.90V597.28H245.30ZM245.30,602.43H248.90V607.58H245.30ZM245.30,612.73H248.90V617.88H245.30ZM245.30,623.03H248.90V628.18H245.30ZM245.30,633.33H248.90V638.48H245.30ZM245.30,643.63H248.90V648.78H245.30Z" fill="#fff"/>
<line x1="273.65" y1="444.34" x2="273.65" y2="448.06" stroke="#000" stroke-width="1.8"/><line x1="270.25" y1="444.34" x2="277.05" y2="444.34" stroke="#000" stroke-width="1.7"/><path d="M266.20,654.00 L266.20,448.56 Q266.20,447.06 267.70,447.06 L279.60,447.06 Q281.10,447.06 281.10,448.56 L281.10,654.00 Z" fill="#000"/><path d="M270.00,450.96H272.80V453.76H270.00ZM270.00,456.56H272.80V459.36H270.00ZM270.00,462.16H272.80V464.96H270.00ZM270.00,467.76H272.80V470.56H270.00ZM270.00,473.36H272.80V476.16H270.00ZM270.00,478.96H272.80V481.76H270.00ZM270.00,484.56H272.80V487.36H270.00ZM270.00,490.16H272.80V492.96H270.00ZM270.00,495.76H272.80V498.56H270.00ZM270.00,501.36H272.80V504.16H270.00ZM270.00,506.96H272.80V509.76H270.00ZM270.00,512.56H272.80V515.36H270.00ZM270.00,518.16H272.80V520.96H270.00ZM270.00,523.76H272.80V526.56H270.00ZM270.00,529.36H272.80V532.16H270.00ZM270.00,534.96H272.80V537.76H270.00ZM270.00,540.56H272.80V543.36H270.00ZM270.00,546.16H272.80V548.96H270.00ZM270.00,551.76H272.80V554.56H270.00ZM270.00,557.36H272.80V560.16H270.00ZM270.00,562.96H272.80V565.76H270.00ZM270.00,568.56H272.80V571.36H270.00ZM270.00,574.16H272.80V576.96H270.00ZM270.00,579.76H272.80V582.56H270.00ZM270.00,585.36H272.80V588.16H270.00ZM270.00,590.96H272.80V593.76H270.00ZM270.00,596.56H272.80V599.36H270.00ZM270.00,602.16H272.80V604.96H270.00ZM270.00,607.76H272.80V610.56H270.00ZM270.00,613.36H272.80V616.16H270.00ZM270.00,618.96H272.80V621.76H270.00ZM270.00,624.56H272.80V627.36H270.00ZM270.00,630.16H272.80V632.96H270.00ZM270.00,635.76H272.80V638.56H270.00ZM270.00,641.36H272.80V644.16H270.00ZM270.00,646.96H272.80V649.76H270.00ZM270.00,652.56H272.80V652.70H270.00ZM272.80,450.86H275.60V450.96H272.80ZM272.80,453.76H275.60V456.56H272.80ZM272.80,459.36H275.60V462.16H272.80ZM272.80,464.96H275.60V467.76H272.80ZM272.80,470.56H275.60V473.36H272.80ZM272.80,476.16H275.60V478.96H272.80ZM272.80,481.76H275.60V484.56H272.80ZM272.80,487.36H275.60V490.16H272.80ZM272.80,492.96H275.60V495.76H272.80ZM272.80,498.56H275.60V501.36H272.80ZM272.80,504.16H275.60V506.96H272.80ZM272.80,509.76H275.60V512.56H272.80ZM272.80,515.36H275.60V518.16H272.80ZM272.80,520.96H275.60V523.76H272.80ZM272.80,526.56H275.60V529.36H272.80ZM272.80,532.16H275.60V534.96H272.80ZM272.80,537.76H275.60V540.56H272.80ZM272.80,543.36H275.60V546.16H272.80ZM272.80,548.96H275.60V551.76H272.80ZM272.80,554.56H275.60V557.36H272.80ZM272.80,560.16H275.60V562.96H272.80ZM272.80,565.76H275.60V568.56H272.80ZM272.80,571.36H275.60V574.16H272.80ZM272.80,576.96H275.60V579.76H272.80ZM272.80,582.56H275.60V585.36H272.80ZM272.80,588.16H275.60V590.96H272.80ZM272.80,593.76H275.60V596.56H272.80ZM272.80,599.36H275.60V602.16H272.80ZM272.80,604.96H275.60V607.76H272.80ZM272.80,610.56H275.60V613.36H272.80ZM272.80,616.16H275.60V618.96H272.80ZM272.80,621.76H275.60V624.56H272.80ZM272.80,627.36H275.60V630.16H272.80ZM272.80,632.96H275.60V635.76H272.80ZM272.80,638.56H275.60V641.36H272.80ZM272.80,644.16H275.60V646.96H272.80ZM272.80,649.76H275.60V652.56H272.80ZM275.60,450.96H277.30V453.76H275.60ZM275.60,456.56H277.30V459.36H275.60ZM275.60,462.16H277.30V464.96H275.60ZM275.60,467.76H277.30V470.56H275.60ZM275.60,473.36H277.30V476.16H275.60ZM275.60,478.96H277.30V481.76H275.60ZM275.60,484.56H277.30V487.36H275.60ZM275.60,490.16H277.30V492.96H275.60ZM275.60,495.76H277.30V498.56H275.60ZM275.60,501.36H277.30V504.16H275.60ZM275.60,506.96H277.30V509.76H275.60ZM275.60,512.56H277.30V515.36H275.60ZM275.60,518.16H277.30V520.96H275.60ZM275.60,523.76H277.30V526.56H275.60ZM275.60,529.36H277.30V532.16H275.60ZM275.60,534.96H277.30V537.76H275.60ZM275.60,540.56H277.30V543.36H275.60ZM275.60,546.16H277.30V548.96H275.60ZM275.60,551.76H277.30V554.56H275.60ZM275.60,557.36H277.30V560.16H275.60ZM275.60,562.96H277.30V565.76H275.60ZM275.60,568.56H277.30V571.36H275.60ZM275.60,574.16H277.30V576.96H275.60ZM275.60,579.76H277.30V582.56H275.60ZM275.60,585.36H277.30V588.16H275.60ZM275.60,590.96H277.30V593.76H275.60ZM275.60,596.56H277.30V599.36H275.60ZM275.60,602.16H277.30V604.96H275.60ZM275.60,607.76H277.30V610.56H275.60ZM275.60,613.36H277.30V616.16H275.60ZM275.60,618.96H277.30V621.76H275.60ZM275.60,624.56H277.30V627.36H275.60ZM275.60,630.16H277.30V632.96H275.60ZM275.60,635.76H277.30V638.56H275.60ZM275.60,641.36H277.30V644.16H275.60ZM275.60,646.96H277.30V649.76H275.60ZM275.60,652.56H277.30V652.70H275.60Z" fill="#fff"/>
<line x1="290.20" y1="449.09" x2="290.20" y2="460.27" stroke="#000" stroke-width="1.8"/><line x1="286.80" y1="449.09" x2="293.60" y2="449.09" stroke="#000" stroke-width="1.7"/><path d="M282.80,654.00 L282.80,460.77 Q282.80,459.27 284.30,459.27 L296.10,459.27 Q297.60,459.27 297.60,460.77 L297.60,654.00 Z" fill="#000"/><path d="M286.60,463.07H290.20V466.62H286.60ZM286.60,471.77H290.20V476.92H286.60ZM286.60,482.07H290.20V487.22H286.60ZM286.60,492.37H290.20V497.52H286.60ZM286.60,502.67H290.20V507.82H286.60ZM286.60,512.97H290.20V518.12H286.60ZM286.60,523.27H290.20V528.42H286.60ZM286.60,533.57H290.20V538.72H286.60ZM286.60,543.87H290.20V549.02H286.60ZM286.60,554.17H290.20V559.32H286.60ZM286.60,564.47H290.20V569.62H286.60ZM286.60,574.77H290.20V579.92H286.60ZM286.60,585.07H290.20V590.22H286.60ZM286.60,595.37H290.20V600.52H286.60ZM286.60,605.67H290.20V610.82H286.60ZM286.60,615.97H290.20V621.12H286.60ZM286.60,626.27H290.20V631.42H286.60ZM286.60,636.57H290.20V641.72H286.60ZM286.60,646.87H290.20V652.02H286.60ZM290.20,466.62H293.80V471.77H290.20ZM290.20,476.92H293.80V482.07H290.20ZM290.20,487.22H293.80V492.37H290.20ZM290.20,497.52H293.80V502.67H290.20ZM290.20,507.82H293.80V512.97H290.20ZM290.20,518.12H293.80V523.27H290.20ZM290.20,528.42H293.80V533.57H290.20ZM290.20,538.72H293.80V543.87H290.20ZM290.20,549.02H293.80V554.17H290.20ZM290.20,559.32H293.80V564.47H290.20ZM290.20,569.62H293.80V574.77H290.20ZM290.20,579.92H293.80V585.07H290.20ZM290.20,590.22H293.80V595.37H290.20ZM290.20,600.52H293.80V605.67H290.20ZM290.20,610.82H293.80V615.97H290.20ZM290.20,621.12H293.80V626.27H290.20ZM290.20,631.42H293.80V636.57H290.20ZM290.20,641.72H293.80V646.87H290.20ZM290.20,652.02H293.80V652.70H290.20Z" fill="#fff"/>
<line x1="498.15" y1="534.45" x2="498.15" y2="536.26" stroke="#000" stroke-width="1.8"/><line x1="494.75" y1="534.45" x2="501.55" y2="534.45" stroke="#000" stroke-width="1.7"/><path d="M490.70,654.00 L490.70,536.76 Q490.70,535.26 492.20,535.26 L504.10,535.26 Q505.60,535.26 505.60,536.76 L505.60,654.00 Z" fill="#000"/><path d="M494.50,539.16H497.30V541.96H494.50ZM494.50,544.76H497.30V547.56H494.50ZM494.50,550.36H497.30V553.16H494.50ZM494.50,555.96H497.30V558.76H494.50ZM494.50,561.56H497.30V564.36H494.50ZM494.50,567.16H497.30V569.96H494.50ZM494.50,572.76H497.30V575.56H494.50ZM494.50,578.36H497.30V581.16H494.50ZM494.50,583.96H497.30V586.76H494.50ZM494.50,589.56H497.30V592.36H494.50ZM494.50,595.16H497.30V597.96H494.50ZM494.50,600.76H497.30V603.56H494.50ZM494.50,606.36H497.30V609.16H494.50ZM494.50,611.96H497.30V614.76H494.50ZM494.50,617.56H497.30V620.36H494.50ZM494.50,623.16H497.30V625.96H494.50ZM494.50,628.76H497.30V631.56H494.50ZM494.50,634.36H497.30V637.16H494.50ZM494.50,639.96H497.30V642.76H494.50ZM494.50,645.56H497.30V648.36H494.50ZM494.50,651.16H497.30V652.70H494.50ZM497.30,539.06H500.10V539.16H497.30ZM497.30,541.96H500.10V544.76H497.30ZM497.30,547.56H500.10V550.36H497.30ZM497.30,553.16H500.10V555.96H497.30ZM497.30,558.76H500.10V561.56H497.30ZM497.30,564.36H500.10V567.16H497.30ZM497.30,569.96H500.10V572.76H497.30ZM497.30,575.56H500.10V578.36H497.30ZM497.30,581.16H500.10V583.96H497.30ZM497.30,586.76H500.10V589.56H497.30ZM497.30,592.36H500.10V595.16H497.30ZM497.30,597.96H500.10V600.76H497.30ZM497.30,603.56H500.10V606.36H497.30ZM497.30,609.16H500.10V611.96H497.30ZM497.30,614.76H500.10V617.56H497.30ZM497.30,620.36H500.10V623.16H497.30ZM497.30,625.96H500.10V628.76H497.30ZM497.30,631.56H500.10V634.36H497.30ZM497.30,637.16H500.10V639.96H497.30ZM497.30,642.76H500.10V645.56H497.30ZM497.30,648.36H500.10V651.16H497.30ZM500.10,539.16H501.80V541.96H500.10ZM500.10,544.76H501.80V547.56H500.10ZM500.10,550.36H501.80V553.16H500.10ZM500.10,555.96H501.80V558.76H500.10ZM500.10,561.56H501.80V564.36H500.10ZM500.10,567.16H501.80V569.96H500.10ZM500.10,572.76H501.80V575.56H500.10ZM500.10,578.36H501.80V581.16H500.10ZM500.10,583.96H501.80V586.76H500.10ZM500.10,589.56H501.80V592.36H500.10ZM500.10,595.16H501.80V597.96H500.10ZM500.10,600.76H501.80V603.56H500.10ZM500.10,606.36H501.80V609.16H500.10ZM500.10,611.96H501.80V614.76H500.10ZM500.10,617.56H501.80V620.36H500.10ZM500.10,623.16H501.80V625.96H500.10ZM500.10,628.76H501.80V631.56H500.10ZM500.10,634.36H501.80V637.16H500.10ZM500.10,639.96H501.80V642.76H500.10ZM500.10,645.56H501.80V648.36H500.10ZM500.10,651.16H501.80V652.70H500.10Z" fill="#fff"/>
<line x1="514.70" y1="603.45" x2="514.70" y2="608.86" stroke="#000" stroke-width="1.8"/><line x1="511.30" y1="603.45" x2="518.10" y2="603.45" stroke="#000" stroke-width="1.7"/><path d="M507.30,654.00 L507.30,609.36 Q507.30,607.86 508.80,607.86 L520.60,607.86 Q522.10,607.86 522.10,609.36 L522.10,654.00 Z" fill="#000"/><path d="M511.10,611.66H514.70V615.21H511.10ZM511.10,620.36H514.70V625.51H511.10ZM511.10,630.66H514.70V635.81H511.10ZM511.10,640.96H514.70V646.11H511.10ZM511.10,651.26H514.70V652.70H511.10ZM514.70,615.21H518.30V620.36H514.70ZM514.70,625.51H518.30V630.66H514.70ZM514.70,635.81H518.30V640.96H514.70ZM514.70,646.11H518.30V651.26H514.70Z" fill="#fff"/>
<line x1="124.7" y1="381.3" x2="124.7" y2="655.5" stroke="#000" stroke-width="2.9"/>
<line x1="123.2" y1="654.0" x2="530.2" y2="654.0" stroke="#000" stroke-width="2.9"/>
<line x1="116.3" y1="654.00" x2="124.7" y2="654.00" stroke="#000" stroke-width="2.6"/>
<text x="113.3" y="660.50" font-size="18.2" font-weight="bold" text-anchor="end">0.0</text>
<line x1="116.3" y1="620.08" x2="124.7" y2="620.08" stroke="#000" stroke-width="2.6"/>
<text x="113.3" y="626.58" font-size="18.2" font-weight="bold" text-anchor="end">0.5</text>
<line x1="116.3" y1="586.15" x2="124.7" y2="586.15" stroke="#000" stroke-width="2.6"/>
<text x="113.3" y="592.65" font-size="18.2" font-weight="bold" text-anchor="end">1.0</text>
<line x1="116.3" y1="552.23" x2="124.7" y2="552.23" stroke="#000" stroke-width="2.6"/>
<text x="113.3" y="558.73" font-size="18.2" font-weight="bold" text-anchor="end">1.5</text>
<line x1="116.3" y1="518.30" x2="124.7" y2="518.30" stroke="#000" stroke-width="2.6"/>
<text x="113.3" y="524.80" font-size="18.2" font-weight="bold" text-anchor="end">2.0</text>
<line x1="116.3" y1="484.38" x2="124.7" y2="484.38" stroke="#000" stroke-width="2.6"/>
<text x="113.3" y="490.88" font-size="18.2" font-weight="bold" text-anchor="end">2.5</text>
<line x1="116.3" y1="450.45" x2="124.7" y2="450.45" stroke="#000" stroke-width="2.6"/>
<text x="113.3" y="456.95" font-size="18.2" font-weight="bold" text-anchor="end">3.0</text>
<line x1="116.3" y1="416.53" x2="124.7" y2="416.53" stroke="#000" stroke-width="2.6"/>
<text x="113.3" y="423.03" font-size="18.2" font-weight="bold" text-anchor="end">3.5</text>
<line x1="116.3" y1="382.60" x2="124.7" y2="382.60" stroke="#000" stroke-width="2.6"/>
<text x="113.3" y="389.10" font-size="18.2" font-weight="bold" text-anchor="end">4.0</text>
<line x1="146.70" y1="654.0" x2="146.70" y2="662.5" stroke="#000" stroke-width="2.6"/>
<text transform="translate(151.70,678.2) rotate(-45)" font-size="14.4" font-weight="bold" text-anchor="end">NG</text>
<line x1="191.60" y1="654.0" x2="191.60" y2="662.5" stroke="#000" stroke-width="2.6"/>
<text transform="translate(196.60,678.2) rotate(-45)" font-size="14.4" font-weight="bold" text-anchor="end">A801</text>
<line x1="236.50" y1="654.0" x2="236.50" y2="662.5" stroke="#000" stroke-width="2.6"/>
<text transform="translate(241.50,678.2) rotate(-45)" font-size="14.4" font-weight="bold" text-anchor="end">B73</text>
<line x1="281.40" y1="654.0" x2="281.40" y2="662.5" stroke="#000" stroke-width="2.6"/>
<text transform="translate(286.40,678.2) rotate(-45)" font-size="14.4" font-weight="bold" text-anchor="end">B104</text>
<line x1="326.30" y1="654.0" x2="326.30" y2="662.5" stroke="#000" stroke-width="2.6"/>
<text transform="translate(331.30,678.2) rotate(-45)" font-size="14.4" font-weight="bold" text-anchor="end">D340</text>
<line x1="371.20" y1="654.0" x2="371.20" y2="662.5" stroke="#000" stroke-width="2.6"/>
<text transform="translate(376.20,678.2) rotate(-45)" font-size="14.4" font-weight="bold" text-anchor="end">Mo17</text>
<line x1="416.10" y1="654.0" x2="416.10" y2="662.5" stroke="#000" stroke-width="2.6"/>
<text transform="translate(421.10,678.2) rotate(-45)" font-size="14.4" font-weight="bold" text-anchor="end">Va35</text>
<line x1="461.00" y1="654.0" x2="461.00" y2="662.5" stroke="#000" stroke-width="2.6"/>
<text transform="translate(466.00,678.2) rotate(-45)" font-size="14.4" font-weight="bold" text-anchor="end">X178</text>
<line x1="505.90" y1="654.0" x2="505.90" y2="662.5" stroke="#000" stroke-width="2.6"/>
<text transform="translate(510.90,678.2) rotate(-45)" font-size="14.4" font-weight="bold" text-anchor="end">87–1</text>
<text x="313.5" y="735" font-size="18" font-weight="bold" text-anchor="middle" letter-spacing="0.5">Samples</text>
<text transform="translate(74.9,517.6) rotate(-90)" font-size="19" font-weight="bold" text-anchor="middle" letter-spacing="-0.17"><tspan font-style="italic">U. maydis</tspan> DNA (ng/μl)</text>
<rect x="555.1" y="391.1" width="32.8" height="15.4" rx="2" fill="#000"/><path d="M559.00,395.20H561.80V398.00H559.00ZM559.00,400.80H561.80V402.50H559.00ZM561.80,395.10H564.60V395.20H561.80ZM561.80,398.00H564.60V400.80H561.80ZM564.60,395.20H567.40V398.00H564.60ZM564.60,400.80H567.40V402.50H564.60ZM567.40,395.10H570.20V395.20H567.40ZM567.40,398.00H570.20V400.80H567.40ZM570.20,395.20H573.00V398.00H570.20ZM570.20,400.80H573.00V402.50H570.20ZM573.00,395.10H575.80V395.20H573.00ZM573.00,398.00H575.80V400.80H573.00ZM575.80,395.20H578.60V398.00H575.80ZM575.80,400.80H578.60V402.50H575.80ZM578.60,395.10H581.40V395.20H578.60ZM578.60,398.00H581.40V400.80H578.60ZM581.40,395.20H584.00V398.00H581.40ZM581.40,400.80H584.00V402.50H581.40Z" fill="#fff"/>
<rect x="555.1" y="423.1" width="32.8" height="14.4" rx="2" fill="#000"/><path d="M559.00,427.10H562.40V430.20H559.00ZM562.40,430.20H567.55V433.50H562.40ZM567.55,427.10H572.70V430.20H567.55ZM572.70,430.20H577.85V433.50H572.70ZM577.85,427.10H583.00V430.20H577.85ZM583.00,430.20H584.00V433.50H583.00Z" fill="#fff"/>
<text x="601.8" y="405.4" font-size="16" font-weight="bold" letter-spacing="0.6">Bio-Rad</text>
<text x="600.6" y="436.2" font-size="16" font-weight="bold" letter-spacing="0.3">ZYD-S1</text>
</g></svg>
</body></html>
